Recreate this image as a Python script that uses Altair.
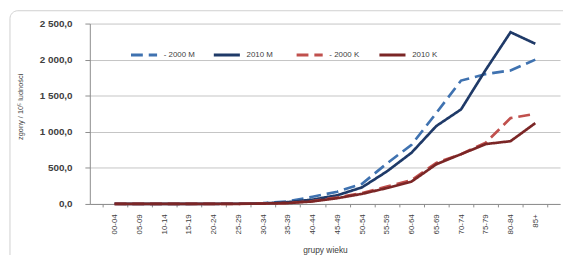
import altair as alt
import pandas as pd

ages = ["00-04", "05-09", "10-14", "15-19", "20-24", "25-29", "30-34", "35-39",
        "40-44", "45-49", "50-54", "55-59", "60-64", "65-69", "70-74", "75-79",
        "80-84", "85+"]
m2000 = [3, 0.5, 1, 2, 3, 5, 12, 35, 100, 170, 280, 560, 820, 1260, 1710, 1800, 1850, 2000]
m2010 = [2, 0.5, 0.5, 1, 2, 3, 8, 25, 60, 120, 230, 450, 710, 1080, 1310, 1860, 2380, 2220]
k2000 = [1, 0.5, 0.5, 1, 1, 2, 5, 12, 40, 90, 150, 240, 330, 570, 690, 850, 1190, 1250]
k2010 = [1, 0.5, 0.5, 1, 1, 2, 5, 12, 35, 80, 140, 220, 310, 550, 690, 830, 870, 1120]

series_names = ["- 2000 M", "2010 M", "- 2000 K", "2010 K"]
series_vals = [m2000, m2010, k2000, k2010]
series_colors = ["#3f72b0", "#1f3a68", "#c0504d", "#7b2626"]
series_dash = [[12, 6], [1, 0], [12, 6], [1, 0]]

rows = []
for name, vals in zip(series_names, series_vals):
    for a, v in zip(ages, vals):
        rows.append({"wiek": a, "seria": name, "wartosc": v})
df = pd.DataFrame(rows)

legend = alt.Legend(
    title=None, orient="none", legendX=40, legendY=17, direction="horizontal",
    columns=4, gridAlign="all", columnPadding=12, symbolType="stroke",
    symbolSize=700, symbolStrokeWidth=3, labelFontSize=8, labelFont="Liberation Sans",
    labelColor="#404040", labelOffset=5,
)

lines = alt.Chart(df).mark_line(strokeWidth=2.7).encode(
    x=alt.X("wiek:N", sort=ages, scale=alt.Scale(paddingInner=0, paddingOuter=0.5),
            axis=alt.Axis(title="grupy wieku", labelAngle=-90, labelFontSize=8,
                          labelFont="Liberation Sans", labelColor="#404040",
                          labelPadding=7, tickBand="extent", tickSize=3,
                          tickColor="#8c8c8c", domainColor="#8c8c8c",
                          titleFontSize=8.5, titleFont="Liberation Sans",
                          titleFontWeight="normal", titleColor="#404040",
                          titleY=42, titleBaseline="top")),
    y=alt.Y("wartosc:Q", scale=alt.Scale(domain=[0, 2500], nice=False),
            axis=alt.Axis(title="zgony / 10⁵ ludności", values=[0, 500, 1000, 1500, 2000, 2500],
                          labelExpr="replace(replace(format(datum.value, ',.1f'), ',', ' '), '.', ',')",
                          labelFontSize=10, labelFontWeight="bold", labelFont="Liberation Sans",
                          labelColor="#404040", labelPadding=13, tickSize=5,
                          tickColor="#8c8c8c", domainColor="#8c8c8c",
                          gridColor="#c4c4c4", titleFontSize=7.5, titleFont="Liberation Sans",
                          titleFontWeight="normal", titleColor="#404040",
                          titleX=-66, titleY=84)),
    color=alt.Color("seria:N", sort=series_names,
                    scale=alt.Scale(domain=series_names, range=series_colors), legend=legend),
    strokeDash=alt.StrokeDash("seria:N", sort=series_names,
                              scale=alt.Scale(domain=series_names, range=series_dash), legend=legend),
    order=alt.Order("wiek:N"),
)

frame = alt.Chart(alt.Data(values=[{"f": 1}])).mark_rect(
    fill="transparent", stroke="#d0d0d0", strokeWidth=1, cornerRadius=8
).encode(
    x=alt.value(-81), x2=alt.value(520), y=alt.value(-13), y2=alt.value(300)
)

chart = alt.layer(frame, lines).properties(
    width=477, height=183,
    autosize=alt.AutoSizeParams(type="none"),
    padding={"left": 83, "top": 14, "right": 3, "bottom": 50},
).configure_view(stroke=None).configure_axisX(grid=False)

chart.save("out.html", embed_options={"renderer": "svg", "actions": False})
